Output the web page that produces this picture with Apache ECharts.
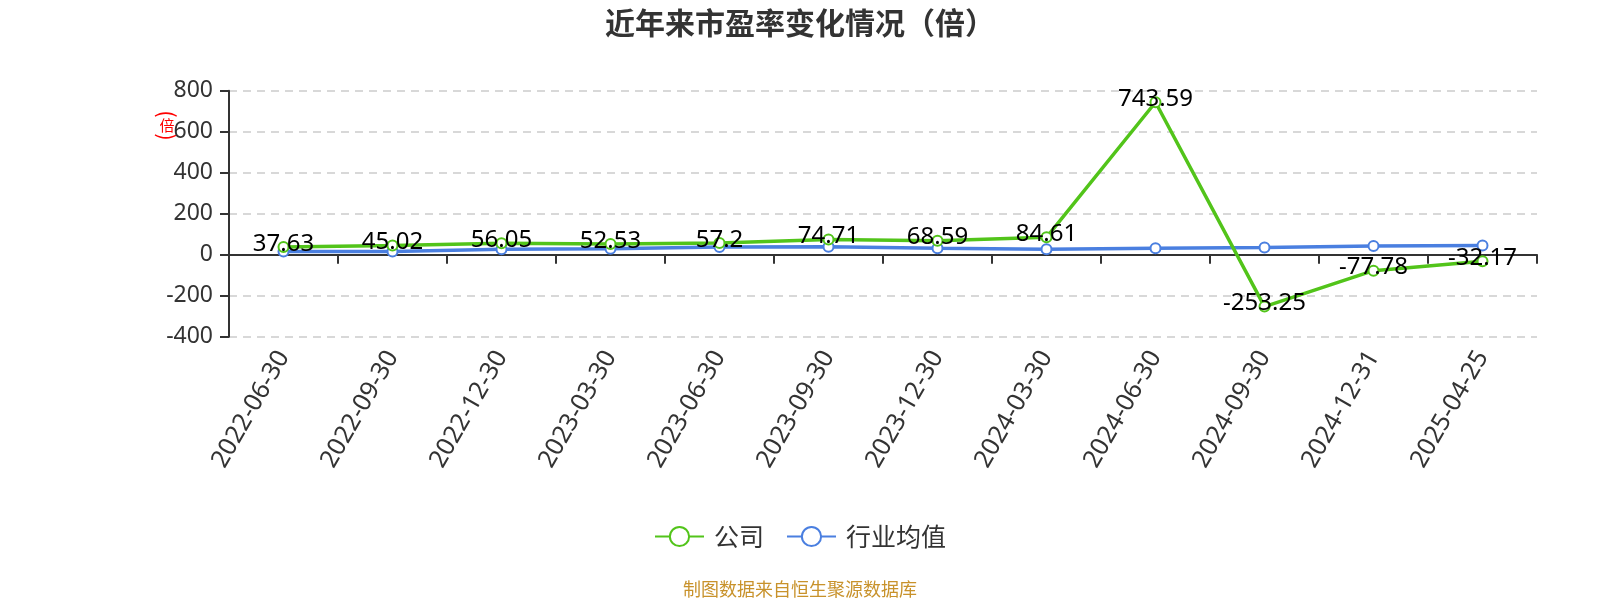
<!DOCTYPE html>
<html>
<head>
<meta charset="utf-8">
<script src="https://cdn.jsdelivr.net/npm/echarts@6/dist/echarts.min.js"></script>
<style>html,body{margin:0;padding:0;background:#fff;}#c{width:1600px;height:600px;}</style>
</head>
<body>
<div id="c"></div>
<script>
const categories = ['2022-06-30','2022-09-30','2022-12-30','2023-03-30','2023-06-30','2023-09-30','2023-12-30','2024-03-30','2024-06-30','2024-09-30','2024-12-31','2025-04-25'];
const companyPE = [37.63, 45.02, 56.05, 52.53, 57.2, 74.71, 68.59, 84.61, 743.59, -253.25, -77.78, -32.17];
const industryPE = [16, 16, 26, 29, 37, 39, 31, 27, 32, 35, 42, 45];
const seriesNames = ['公司', '行业均值'];
const yTicks = {min: -400, max: 800, interval: 200};

const FONT = '"Noto Sans", "Noto Sans CJK SC", sans-serif';
const CJK = '"Noto Sans CJK SC", sans-serif';
const chart = echarts.init(document.getElementById('c'), null, {renderer: 'canvas'});
chart.setOption({
  backgroundColor: '#fff',
  animation: false,
  textStyle: {fontFamily: FONT},
  title: {
    text: '近年来市盈率变化情况（倍）',
    left: 'center', top: 3,
    textStyle: {fontSize: 30, fontWeight: 'bold', color: '#333', fontFamily: CJK}
  },
  graphic: [
    {type: 'text', x: 167, y: 114, rotation: -Math.PI / 2, style: {text: '(', fill: '#ff0000', font: '22px ' + CJK, align: 'center', verticalAlign: 'middle'}},
    {type: 'text', x: 167, y: 125, style: {text: '倍', fill: '#ff0000', font: '15px ' + CJK, align: 'center', verticalAlign: 'middle'}},
    {type: 'text', x: 167, y: 137, rotation: -Math.PI / 2, style: {text: ')', fill: '#ff0000', font: '22px ' + CJK, align: 'center', verticalAlign: 'middle'}},
    {type: 'text', left: 'center', top: 580, style: {text: '制图数据来自恒生聚源数据库', fill: '#c8922b', font: '18px ' + CJK}}
  ],
  legend: {
    data: seriesNames,
    left: 'center', top: 519,
    itemWidth: 49, itemHeight: 24, itemGap: 22,
    textStyle: {fontSize: 25, color: '#333', fontFamily: CJK, padding: [0, 0, 0, 5]}
  },
  grid: {left: 229, right: 63, top: 90.7, bottom: 263.3, containLabel: false},
  xAxis: {
    type: 'category',
    data: categories,
    boundaryGap: true,
    axisLine: {onZero: true, lineStyle: {color: '#333', width: 2}},
    axisTick: {show: true, length: 9, lineStyle: {color: '#333', width: 2}},
    axisLabel: {rotate: 60, fontSize: 25, color: '#333', margin: 16, fontFamily: FONT, interval: 0},
    splitLine: {show: false}
  },
  yAxis: {
    type: 'value',
    min: yTicks.min, max: yTicks.max, interval: yTicks.interval,
    axisLine: {show: true, lineStyle: {color: '#333', width: 2}},
    axisTick: {show: true, length: 9, lineStyle: {color: '#333', width: 2}},
    axisLabel: {fontSize: 23, color: '#333', margin: 16, fontFamily: FONT},
    splitLine: {show: true, lineStyle: {color: '#ccc', type: [8, 6], width: 1.5}}
  },
  series: [
    {
      name: seriesNames[0], type: 'line', data: companyPE,
      symbol: 'emptyCircle', symbolSize: 10, showSymbol: true,
      lineStyle: {color: '#52c41a', width: 3.5},
      itemStyle: {color: '#52c41a', borderWidth: 2},
      label: {show: true, position: 'inside', offset: [0, -3], fontSize: 24, color: '#000', fontFamily: FONT},
      z: 3
    },
    {
      name: seriesNames[1], type: 'line', data: industryPE,
      symbol: 'emptyCircle', symbolSize: 10, showSymbol: true,
      lineStyle: {color: '#4a7fe0', width: 3.5},
      itemStyle: {color: '#4a7fe0', borderWidth: 2},
      label: {show: false},
      z: 2
    }
  ]
});
</script>
</body>
</html>
